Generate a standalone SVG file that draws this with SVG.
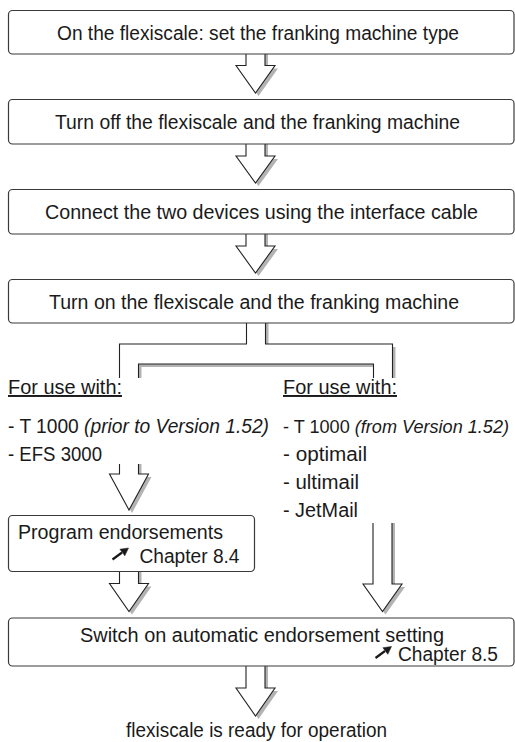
<svg xmlns="http://www.w3.org/2000/svg" width="515" height="742" viewBox="0 0 515 742">
<style>
  .box { fill: #ffffff; stroke: #3a3a3a; stroke-width: 1.2; }
  .arw { fill: #ffffff; stroke: #222222; stroke-width: 1.1; stroke-linejoin: miter; }
  .fillw { fill: #ffffff; stroke: none; }
  .line { fill: none; stroke: #222222; stroke-width: 1.1; }
  .shd { fill: #b3b3b3; stroke: none; }
  .t { font-family: 'Liberation Sans', Arial, sans-serif; font-size: 19.5px; fill: #1a1a1a; }
  .sm { font-size: 18px; }
  .it { font-style: italic; }
  .ul { text-decoration: underline; }
  .ref { fill: #1a1a1a; stroke: #1a1a1a; }
</style>
<rect width="515" height="742" fill="#ffffff"/>

<g id="connectors">
  <!-- arrow 1 -->
  <path class="shd" d="M249,54 V68.5 H239 L258.5,96 L278,68.5 H268 V54 Z"/>
  <path class="arw" d="M246,54 V65.5 H236 L255.5,93 L275,65.5 H265 V54"/>
  <!-- arrow 2 -->
  <path class="shd" d="M249,144 V159 H239 L258.5,186 L278,159 H268 V144 Z"/>
  <path class="arw" d="M246,144 V156 H236 L255.5,183 L275,156 H265 V144"/>
  <!-- arrow 3 -->
  <path class="shd" d="M249,234 V249 H239 L258.5,276 L278,249 H268 V234 Z"/>
  <path class="arw" d="M246,234 V246 H236 L255.5,273 L275,246 H265 V234"/>
  <!-- split bracket -->
  <polygon class="shd" points="249.5,323 249.5,347 122.5,347 122.5,378 141.5,378 141.5,367 376.5,367 376.5,378 395.5,378 395.5,347 268.5,347 268.5,323"/>
  <polygon class="fillw" points="246.5,323 246.5,344 119.5,344 119.5,378 138.5,378 138.5,364 373.5,364 373.5,378 392.5,378 392.5,344 265.5,344 265.5,323"/>
  <path class="line" d="M246.5,323 V344 H119.5 V378 M138.5,378 V364 H373.5 V378 M392.5,378 V344 H265.5 V323"/>
  <!-- left arrow 1 -->
  <path class="shd" d="M122.5,464 V477 H112.5 L132,513 L151.5,477 H141.5 V464 Z"/>
  <path class="arw" d="M119.5,464 V474 H109.5 L129,510 L148.5,474 H138.5 V464"/>
  <!-- left arrow 2 -->
  <path class="shd" d="M122.5,571.5 V586.5 H112.5 L132,614.5 L151.5,586.5 H141.5 V571.5 Z"/>
  <path class="arw" d="M119.5,571.5 V583.5 H109.5 L129,611.5 L148.5,583.5 H138.5 V571.5"/>
  <!-- right arrow -->
  <path class="shd" d="M376,523 V587 H366 L385.5,614.5 L405,587 H395 V523 Z"/>
  <path class="arw" d="M373,523 V584 H363 L382.5,611.5 L402,584 H392 V523"/>
  <!-- final arrow -->
  <path class="shd" d="M249,666 V691 H239 L258.5,719 L278,691 H268 V666 Z"/>
  <path class="arw" d="M246,666 V688 H236 L255.5,716 L275,688 H265 V666"/>
</g>

<g id="n1">
  <rect class="box" x="8.5" y="10.5" width="505.5" height="43.5" rx="4"/>
  <text class="t" x="57" y="39.5" textLength="402" lengthAdjust="spacingAndGlyphs">On the flexiscale: set the franking machine type</text>
</g>
<g id="n2">
  <rect class="box" x="8.5" y="99.5" width="505.5" height="44.5" rx="4"/>
  <text class="t" x="55" y="129" textLength="405" lengthAdjust="spacingAndGlyphs">Turn off the flexiscale and the franking machine</text>
</g>
<g id="n3">
  <rect class="box" x="8.5" y="189.5" width="505.5" height="44.5" rx="4"/>
  <text class="t" x="45" y="219" textLength="433" lengthAdjust="spacingAndGlyphs">Connect the two devices using the interface cable</text>
</g>
<g id="n4">
  <rect class="box" x="8.5" y="279.5" width="505.5" height="43.5" rx="4"/>
  <text class="t" x="49" y="308.5" textLength="410" lengthAdjust="spacingAndGlyphs">Turn on the flexiscale and the franking machine</text>
</g>

<g id="left-list">
  <text class="t ul" x="8" y="394" textLength="114" lengthAdjust="spacingAndGlyphs">For use with:</text>
  <text class="t" x="8" y="433" textLength="261" lengthAdjust="spacingAndGlyphs">- T 1000 <tspan class="it">(prior to Version 1.52)</tspan></text>
  <text class="t" x="8" y="461" textLength="94" lengthAdjust="spacingAndGlyphs">- EFS 3000</text>
</g>
<g id="right-list">
  <text class="t ul" x="283" y="394" textLength="114" lengthAdjust="spacingAndGlyphs">For use with:</text>
  <text class="t sm" x="283" y="433" textLength="226" lengthAdjust="spacingAndGlyphs">- T 1000 <tspan class="it">(from Version 1.52)</tspan></text>
  <text class="t" x="283" y="461" textLength="84" lengthAdjust="spacingAndGlyphs">- optimail</text>
  <text class="t" x="283" y="489" textLength="76" lengthAdjust="spacingAndGlyphs">- ultimail</text>
  <text class="t" x="283" y="517" textLength="75" lengthAdjust="spacingAndGlyphs">- JetMail</text>
</g>

<g id="n5">
  <rect class="box" x="8.5" y="515.5" width="246" height="56" rx="4"/>
  <text class="t" x="18" y="538.5" textLength="205" lengthAdjust="spacingAndGlyphs">Program endorsements</text>
  <path class="ref" stroke-width="2.2" d="M112.5,559.5 L122,552.5"/>
  <polygon class="ref" stroke-width="0.5" points="128.5,548 124.8,555.8 119.9,549.2"/>
  <text class="t" x="139.5" y="562.5" textLength="100" lengthAdjust="spacingAndGlyphs">Chapter 8.4</text>
</g>

<g id="n6">
  <rect class="box" x="8.5" y="618" width="505.5" height="48" rx="4"/>
  <text class="t" x="80" y="641.5" textLength="364" lengthAdjust="spacingAndGlyphs">Switch on automatic endorsement setting</text>
  <path class="ref" stroke-width="2.2" d="M375.5,658 L385,651"/>
  <polygon class="ref" stroke-width="0.5" points="391.5,646.5 387.8,654.3 382.9,647.7"/>
  <text class="t" x="398" y="661" textLength="100" lengthAdjust="spacingAndGlyphs">Chapter 8.5</text>
</g>

<g id="n7">
  <text class="t" x="126" y="737" textLength="261" lengthAdjust="spacingAndGlyphs">flexiscale is ready for operation</text>
</g>
</svg>
